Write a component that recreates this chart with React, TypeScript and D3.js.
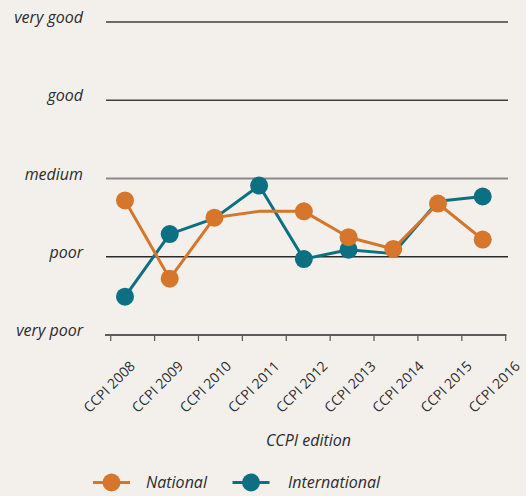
import React from "react";
import * as d3 from "d3";

const categories = ["CCPI 2008", "CCPI 2009", "CCPI 2010", "CCPI 2011", "CCPI 2012", "CCPI 2013", "CCPI 2014", "CCPI 2015", "CCPI 2016"];
const ratingLabels = ["very poor", "poor", "medium", "good", "very good"];
const national = [1.72, 0.72, 1.5, 1.58, 1.58, 1.25, 1.1, 1.68, 1.22];
const nationalMarkers = [true, true, true, false, true, true, true, true, true];
const international = [0.49, 1.29, 1.49, 1.91, 0.97, 1.09, 1.04, 1.71, 1.77];
const internationalMarkers = [true, true, false, true, true, true, false, false, true];
const tickCount = 10;

const W = 526;
const H = 496;
const ORANGE = "#d5762c";
const TEAL = "#0c6f82";
const BG = "#f3f0ec";
const FONT = "'Open Sans', sans-serif";

export default function App() {
  const y = d3.scaleLinear().domain([0, 4]).range([335, 22]);
  const xPoint = d3.scaleLinear().domain([0, categories.length - 1]).range([125, 482.7]);
  const xTick = d3.scaleLinear().domain([0, tickCount - 1]).range([110.7, 505.7]);
  const xLabel = d3.scaleLinear().domain([0, categories.length - 1]).range([136, 521]);
  const line = d3
    .line<number>()
    .x((_, i) => xPoint(i))
    .y((d) => y(d));

  const series = [
    { name: "International", values: international, markers: internationalMarkers, color: TEAL },
    { name: "National", values: national, markers: nationalMarkers, color: ORANGE },
  ];

  const legend = [
    { name: "National", color: ORANGE, x0: 93, text: 146 },
    { name: "International", color: TEAL, x0: 232.5, text: 288 },
  ];

  return (
    <svg
      width={W}
      height={H}
      style={{ position: "absolute", left: 0, top: 0, background: BG }}
      fontFamily={FONT}
    >
      <rect x={0} y={0} width={W} height={H} fill={BG} />
      {/* gridlines */}
      {ratingLabels.map((lab, i) =>
        i === 0 ? null : (
          <line
            key={lab}
            x1={106}
            x2={508}
            y1={y(i)}
            y2={y(i)}
            stroke={i === 2 ? "#8c8a88" : i === 1 ? "#2a2a2a" : "#3f3f3f"}
            strokeWidth={i === 2 ? 2 : 1.4}
          />
        )
      )}
      {/* y labels */}
      {ratingLabels.map((lab, i) => (
        <text
          key={lab}
          x={83}
          y={y(i) + 1}
          textAnchor="end"
          fontStyle="italic"
          fontSize={16}
          fill="#2b2b2b"
        >
          {lab}
        </text>
      ))}
      {/* x axis */}
      <line x1={105} x2={506.5} y1={y(0)} y2={y(0)} stroke="#2a2a2a" strokeWidth={1.6} />
      {d3.range(tickCount).map((i) => (
        <line key={i} x1={xTick(i)} x2={xTick(i)} y1={y(0)} y2={y(0) + 6} stroke="#555" strokeWidth={1.2} />
      ))}
      {categories.map((c, i) => (
        <text
          key={c}
          transform={`translate(${xLabel(i)},367) rotate(-45)`}
          textAnchor="end"
          fontSize={14}
          fill="#2b2b2b"
        >
          {c}
        </text>
      ))}
      <text x={308.5} y={446} textAnchor="middle" fontStyle="italic" fontSize={16} fill="#2b2b2b">
        CCPI edition
      </text>
      {/* series */}
      {series.map((s) => (
        <g key={s.name}>
          <path d={line(s.values) || ""} fill="none" stroke={s.color} strokeWidth={3} strokeLinejoin="round" />
          {s.values.map((v, i) =>
            s.markers[i] ? <circle key={i} cx={xPoint(i)} cy={y(v)} r={9} fill={s.color} /> : null
          )}
        </g>
      ))}
      {/* legend */}
      {legend.map((l) => (
        <g key={l.name}>
          <line x1={l.x0} x2={l.x0 + 37} y1={482.5} y2={482.5} stroke={l.color} strokeWidth={3} />
          <circle cx={l.x0 + 18.5} cy={482.5} r={9} fill={l.color} />
          <text x={l.text} y={488} fontStyle="italic" fontSize={16} fill="#2b2b2b">
            {l.name}
          </text>
        </g>
      ))}
    </svg>
  );
}
